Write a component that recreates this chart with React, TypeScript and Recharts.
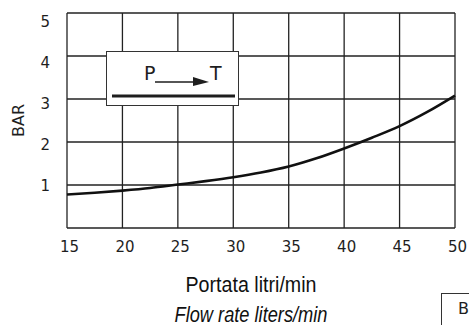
import React from 'react';
import { LineChart, Line, XAxis, YAxis, CartesianGrid, Label } from 'recharts';

const flowTicks = [15, 20, 25, 30, 35, 40, 45, 50];
const barTicks = [0, 1, 2, 3, 4, 5];
const flow = [15, 17.5, 20, 22.5, 25, 27.5, 30, 32.5, 35, 37.5, 40, 42.5, 45, 47.5, 50];
const bar = [0.78, 0.82, 0.87, 0.93, 1.01, 1.09, 1.18, 1.29, 1.43, 1.62, 1.85, 2.1, 2.37, 2.7, 3.08];
const xTitle = 'Portata litri/min';
const xSubtitle = 'Flow rate liters/min';
const yTitle = 'BAR';
const legendFrom = 'P';
const legendTo = 'T';
const cornerTag = 'B';

const data = flow.map((f, i) => ({ flow: f, bar: bar[i] }));

const tickFont = { fontFamily: '"DejaVu Sans", sans-serif', fontSize: 15, fill: '#1e1e1e' };

const XTick = (props: any) => {
  const { x, y, payload } = props;
  return (
    <text x={x + 2.5} y={y} textAnchor="middle" {...tickFont}>
      {payload.value}
    </text>
  );
};

const YTick = (props: any) => {
  const { x, y, payload } = props;
  const v = payload.value;
  if (v === 0) return null;
  return (
    <text x={x} y={y + 5.5 + (v - 1) * 2} textAnchor="end" {...tickFont}>
      {v}
    </text>
  );
};

const XTitle = (props: any) => {
  const vb = props.viewBox || {};
  const cx = vb.x + vb.width / 2 - 10;
  const fam = '"Liberation Sans Narrow", "Liberation Sans", sans-serif';
  return (
    <g>
      <text x={cx} y={vb.y + 64} textAnchor="middle" fontFamily={fam} fontSize={22} fill="#111"
        textLength={131} lengthAdjust="spacingAndGlyphs">{xTitle}</text>
      <text x={cx} y={vb.y + 93.5} textAnchor="middle" fontFamily={fam} fontSize={22} fontStyle="italic" fill="#111"
        textLength={153} lengthAdjust="spacingAndGlyphs">{xSubtitle}</text>
    </g>
  );
};

const YTitle = (props: any) => {
  const vb = props.viewBox || {};
  const x = vb.x + 24;
  const y = vb.y + vb.height / 2;
  return (
    <text x={x} y={y} textAnchor="middle" transform={`rotate(-90, ${x}, ${y})`}
      fontFamily='"DejaVu Sans", sans-serif' fontSize={16} fill="#1e1e1e">{yTitle}</text>
  );
};

export default function App() {
  return (
    <div style={{ position: 'absolute', left: 0, top: 0, width: 469, height: 325, background: '#fff', overflow: 'hidden' }}>
      <LineChart width={469} height={325} data={data} margin={{ top: 13, right: 14, bottom: 0, left: 0 }}>
        <CartesianGrid stroke="#222" strokeWidth={1.3} />
        <XAxis dataKey="flow" type="number" domain={[15, 50]} ticks={flowTicks} height={97}
          axisLine={false} tickLine={false} tickSize={0} tickMargin={24} tick={<XTick />} interval={0}>
          <Label content={<XTitle />} />
        </XAxis>
        <YAxis type="number" domain={[0, 5]} ticks={barTicks} width={67}
          axisLine={false} tickLine={false} tickSize={0} tickMargin={17} tick={<YTick />} interval={0}>
          <Label content={<YTitle />} />
        </YAxis>
        <Line type="monotone" dataKey="bar" stroke="#111" strokeWidth={2.6} dot={false} isAnimationActive={false} />
      </LineChart>
      <div style={{ position: 'absolute', left: 106, top: 51, width: 133, height: 55, background: '#fff', border: '1px solid #333', boxSizing: 'border-box' }}>
        <svg width={133} height={55} style={{ position: 'absolute', left: -1, top: -1 }}>
          <text x={38} y={29} fontFamily='"DejaVu Sans", sans-serif' fontSize={19} fill="#1e1e1e">{legendFrom}</text>
          <text x={104} y={29} fontFamily='"DejaVu Sans", sans-serif' fontSize={19} fill="#1e1e1e">{legendTo}</text>
          <line x1={49} y1={31} x2={90} y2={31} stroke="#1e1e1e" strokeWidth={1.6} />
          <polygon points="87,26 103,31 87,35" fill="#1e1e1e" />
          <line x1={6} y1={45} x2={129} y2={45} stroke="#1e1e1e" strokeWidth={3} />
        </svg>
      </div>
      <div style={{ position: 'absolute', left: 441, top: 293, width: 60, height: 60, border: '1px solid #333', background: '#fff' }}>
        <span style={{ position: 'absolute', left: 16, top: 7, fontFamily: '"DejaVu Sans", sans-serif', fontSize: 16, color: '#1e1e1e', lineHeight: '16px' }}>{cornerTag}</span>
      </div>
    </div>
  );
}
